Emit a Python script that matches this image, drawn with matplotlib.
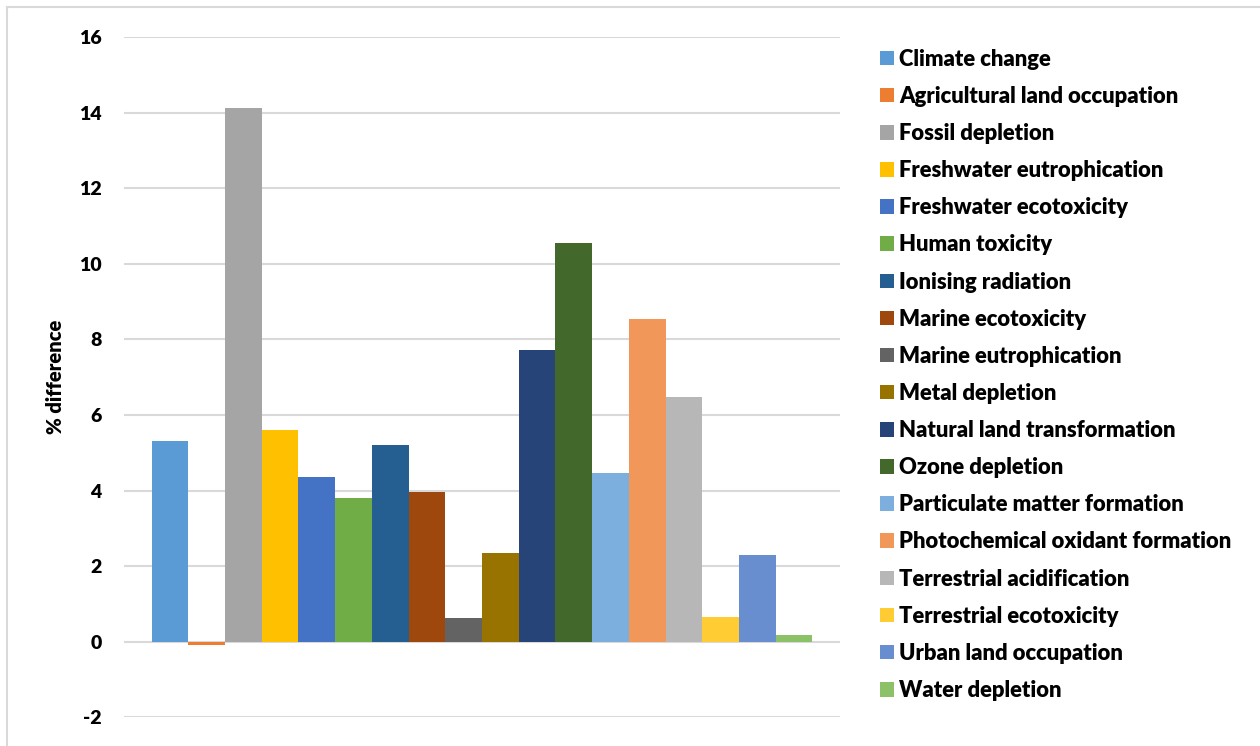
import matplotlib
matplotlib.use("Agg")
import matplotlib.pyplot as plt
from matplotlib.patches import Patch
from matplotlib.lines import Line2D

categories = [
    "Climate change", "Agricultural land occupation", "Fossil depletion",
    "Freshwater eutrophication", "Freshwater ecotoxicity", "Human toxicity",
    "Ionising radiation", "Marine ecotoxicity", "Marine eutrophication",
    "Metal depletion", "Natural land transformation", "Ozone depletion",
    "Particulate matter formation", "Photochemical oxidant formation",
    "Terrestrial acidification", "Terrestrial ecotoxicity",
    "Urban land occupation", "Water depletion",
]
pct_difference = [5.31, -0.08, 14.13, 5.60, 4.35, 3.80, 5.20, 3.96, 0.63,
                  2.34, 7.71, 10.54, 4.46, 8.53, 6.47, 0.65, 2.29, 0.18]
colors = ["#5B9BD5", "#ED7D31", "#A5A5A5", "#FFC000", "#4472C4", "#70AD47",
          "#255E91", "#9E480E", "#636363", "#997300", "#264478", "#43682B",
          "#7CAFDD", "#F1975A", "#B7B7B7", "#FFCD33", "#698ED0", "#8CC168"]
y_ticks = [-2, 0, 2, 4, 6, 8, 10, 12, 14, 16]

plt.rcParams["font.family"] = ["Lato", "DejaVu Sans"]

fig = plt.figure(figsize=(12.6, 7.46), dpi=100)
ax = fig.add_axes([124 / 1260, 1 - 717.4 / 746, 716 / 1260, 680.4 / 746])

n = len(categories)
offsets = [i - (n - 1) / 2 for i in range(n)]
ax.bar(offsets, pct_difference, width=1.0, color=colors, zorder=2,
       linewidth=0)

ax.set_xlim(-9.75, 9.75)
ax.set_ylim(-2, 16)
ax.set_yticks(y_ticks)
ax.set_yticklabels([str(t) for t in y_ticks], fontsize=14, fontweight="heavy")
ax.set_xticks([])
ax.tick_params(axis="y", length=0, pad=16)
ax.grid(axis="y", color="#D9D9D9", linewidth=1.5, zorder=0)
for s in ax.spines.values():
    s.set_visible(False)
ax.set_ylabel("% difference", fontsize=14.5, fontweight="heavy", labelpad=10)

legend_size = 15.8
handles = [Patch(facecolor=c, edgecolor="none") for c in colors]
fig.legend(handles, categories, loc="upper left",
           bbox_to_anchor=(871 / 1260, 1 - 40 / 746),
           frameon=False, prop={"weight": "heavy", "size": legend_size},
           handlelength=0.64, handleheight=0.64, handletextpad=0.25,
           labelspacing=0.735, borderaxespad=0)

# outer frame (only top and left edges visible within the canvas)
fig.add_artist(Line2D([7 / 1260, 1.0], [1 - 7 / 746, 1 - 7 / 746],
                      transform=fig.transFigure, color="#D9D9D9", linewidth=1.5))
fig.add_artist(Line2D([7 / 1260, 7 / 1260], [0.0, 1 - 7 / 746],
                      transform=fig.transFigure, color="#D9D9D9", linewidth=1.5))

fig.savefig("out.png", dpi=100, facecolor="white")
